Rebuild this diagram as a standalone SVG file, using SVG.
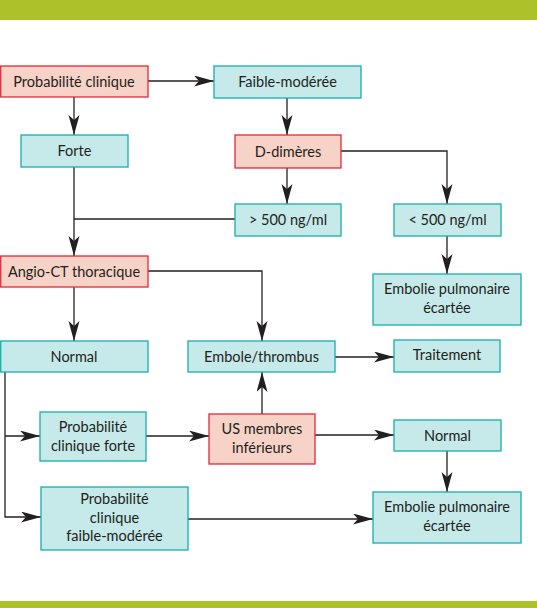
<svg xmlns="http://www.w3.org/2000/svg" width="537" height="608" viewBox="0 0 537 608">
<style>
.r{fill:#f7d2c6;stroke:#e4283a;stroke-width:1.3}
.c{fill:#c6e9e9;stroke:#17adaf;stroke-width:1.3}
text{font-family:Lato,"Liberation Sans",sans-serif;font-size:14.5px;fill:#231f20;text-anchor:middle}
.e{fill:none;stroke:#231f20;stroke-width:1.3}
</style>
<defs>
<marker id="a" markerUnits="userSpaceOnUse" markerWidth="21" markerHeight="12" refX="20" refY="5.5" orient="auto">
<path d="M0,0 L20,5.5 L0,11 L5,5.5 z" fill="#231f20"/>
</marker>
</defs>
<rect x="0" y="0" width="537" height="20" fill="#adc22a"/>
<rect x="0" y="601" width="537" height="7" fill="#adc22a"/>
<g id="connectors">
<path class="e" d="M148,81 H214" marker-end="url(#a)"/>
<path class="e" d="M74,97 V135" marker-end="url(#a)"/>
<path class="e" d="M287,98 V135" marker-end="url(#a)"/>
<path class="e" d="M287,168 V204" marker-end="url(#a)"/>
<path class="e" d="M341,151 H447 V204" marker-end="url(#a)"/>
<path class="e" d="M235,219 H74"/>
<path class="e" d="M74,167 V256" marker-end="url(#a)"/>
<path class="e" d="M447,236 V274" marker-end="url(#a)"/>
<path class="e" d="M148,271 H262 V341" marker-end="url(#a)"/>
<path class="e" d="M74,287 V341" marker-end="url(#a)"/>
<path class="e" d="M335,357 H394" marker-end="url(#a)"/>
<path class="e" d="M5,372 V517 H41" marker-end="url(#a)"/>
<path class="e" d="M5,436 H40" marker-end="url(#a)"/>
<path class="e" d="M146,436 H209" marker-end="url(#a)"/>
<path class="e" d="M262,414 V372" marker-end="url(#a)"/>
<path class="e" d="M315,435 H394" marker-end="url(#a)"/>
<path class="e" d="M447,451 V492" marker-end="url(#a)"/>
<path class="e" d="M188,519 H373" marker-end="url(#a)"/>
</g>
<g id="n1"><rect class="r" x="0.7" y="66" width="147.3" height="31"/><text x="74" y="86.5">Probabilité clinique</text></g>
<g id="n2"><rect class="c" x="214" y="66" width="147" height="32"/><text x="287.5" y="87">Faible-modérée</text></g>
<g id="n3"><rect class="c" x="21" y="135" width="107" height="32"/><text x="74.5" y="156">Forte</text></g>
<g id="n4"><rect class="r" x="235" y="135" width="106" height="33"/><text x="288" y="156.5">D-dimères</text></g>
<g id="n5"><rect class="c" x="235" y="204" width="106" height="32"/><text x="288" y="225">&gt; 500 ng/ml</text></g>
<g id="n6"><rect class="c" x="394" y="204" width="107" height="32"/><text x="447.5" y="225">&lt; 500 ng/ml</text></g>
<g id="n7"><rect class="r" x="0.7" y="256" width="147.3" height="31"/><text x="74" y="276.5">Angio-CT thoracique</text></g>
<g id="n8"><rect class="c" x="373" y="274" width="148" height="51"/><text x="447" y="294">Embolie pulmonaire</text><text x="447" y="312.5">écartée</text></g>
<g id="n9"><rect class="c" x="0.7" y="341" width="147.3" height="31"/><text x="74" y="361.5">Normal</text></g>
<g id="n10"><rect class="c" x="188" y="341" width="147" height="31"/><text x="261.5" y="361.5">Embole/thrombus</text></g>
<g id="n11"><rect class="c" x="394" y="340" width="106" height="32"/><text x="447" y="360">Traitement</text></g>
<g id="n12"><rect class="c" x="40" y="412" width="106" height="49"/><text x="93" y="432">Probabilité</text><text x="93" y="450.5">clinique forte</text></g>
<g id="n13"><rect class="r" x="209" y="414" width="106" height="50"/><text x="262" y="434">US membres</text><text x="262" y="452.5">inférieurs</text></g>
<g id="n14"><rect class="c" x="394" y="420" width="107" height="31"/><text x="447.5" y="440.5">Normal</text></g>
<g id="n15"><rect class="c" x="41" y="487" width="147" height="63"/><text x="114.5" y="504">Probabilité</text><text x="114.5" y="523">clinique</text><text x="114.5" y="541">faible-modérée</text></g>
<g id="n16"><rect class="c" x="373" y="492" width="148" height="51"/><text x="447" y="512">Embolie pulmonaire</text><text x="447" y="530.5">écartée</text></g>
</svg>
